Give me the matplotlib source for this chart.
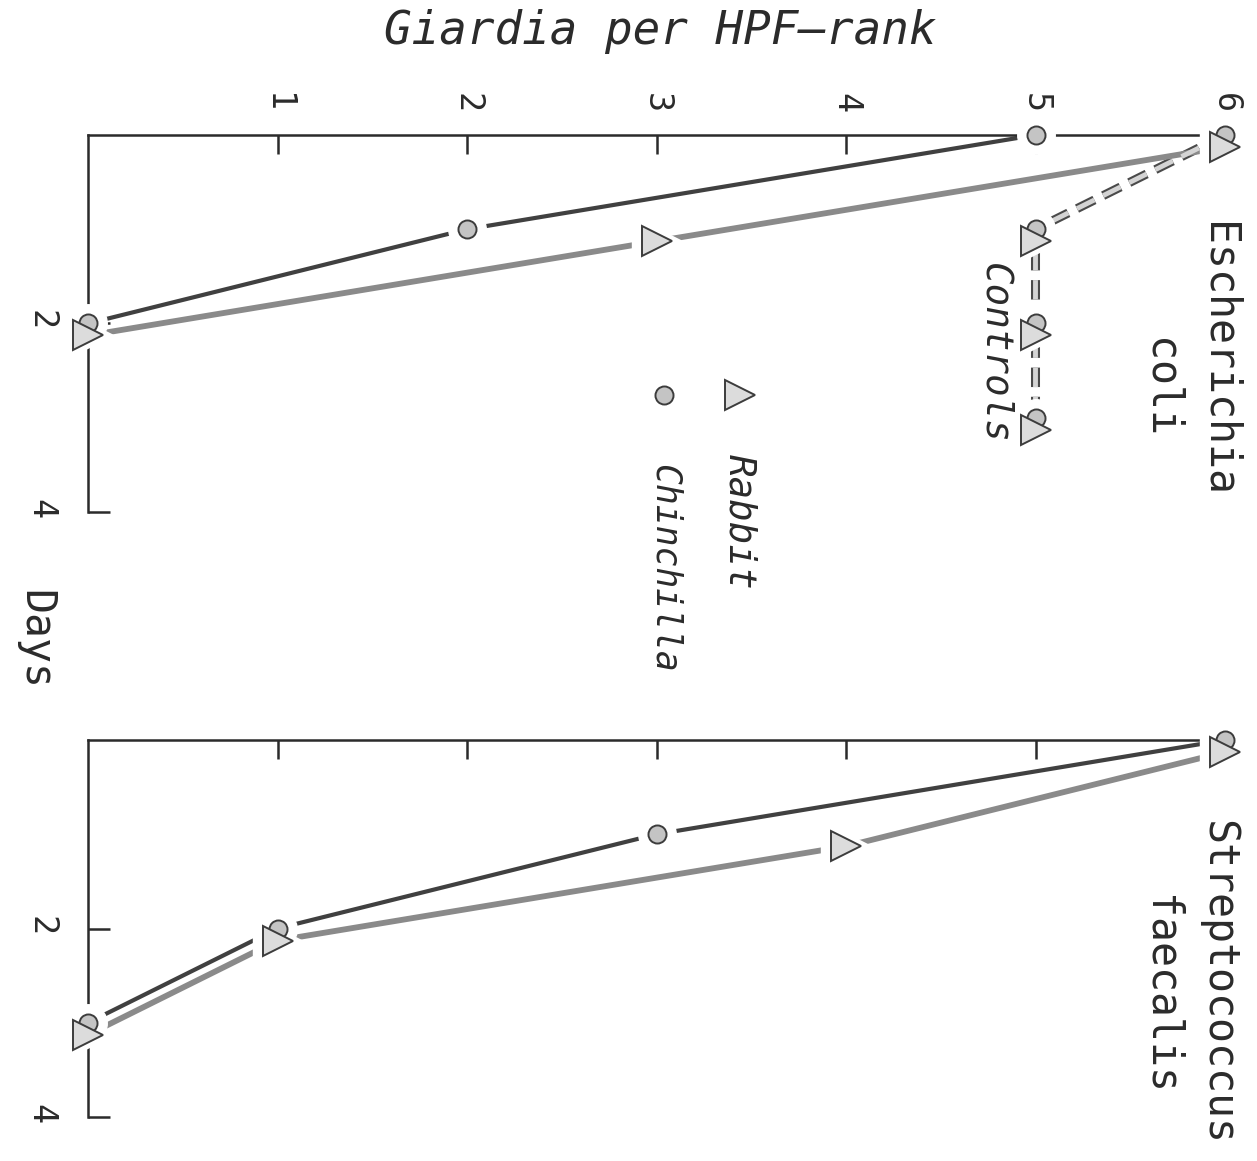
import matplotlib

matplotlib.use("Agg")
import matplotlib.pyplot as plt
import matplotlib.transforms as mtransforms

# Giardia per HPF rank over days after challenge (figure is drawn turned 90 deg clockwise)
RANK_TICKS = [1, 2, 3, 4, 5, 6]
DAY_TICKS = [2, 4]

ECOLI_DAYS = [0, 1, 2]
ECOLI_CHINCHILLA = [5, 2, 0]
ECOLI_RABBIT = [6, 3, 0]

CONTROL_DAYS = [0, 1, 2, 3]
CONTROL_RANK = [6, 5, 5, 5]

STREP_DAYS = [0, 1, 2, 3]
STREP_CHINCHILLA = [6, 3, 1, 0]
STREP_RABBIT = [6, 4, 1, 0]

W, H = 1257, 1161
INK = "#2b2b2b"
MONO = "DejaVu Sans Mono"

plt.rcParams["lines.scale_dashes"] = False


def px(x0, y0, x1, y1):
    # pixel box (top-left origin) -> figure fractions
    return [x0 / W, 1 - y1 / H, (x1 - x0) / W, (y1 - y0) / H]


def setup_axis(ax, show_rank_labels):
    ax.set_xlim(0, 6)
    ax.set_ylim(4, 0)
    ax.patch.set_alpha(0)
    for side in ("right", "bottom"):
        ax.spines[side].set_visible(False)
    for side in ("left", "top"):
        ax.spines[side].set_color(INK)
        ax.spines[side].set_linewidth(1.8)
    ax.xaxis.tick_top()
    ax.set_xticks(RANK_TICKS)
    ax.set_xticklabels([str(r) for r in RANK_TICKS], rotation=-90, family=MONO, fontsize=24, color=INK)
    ax.tick_params(axis="x", direction="in", length=14, width=1.8, color=INK, pad=16,
                   labeltop=show_rank_labels, labelbottom=False, bottom=False)
    ax.set_yticks(DAY_TICKS)
    ax.set_yticklabels([str(d) for d in DAY_TICKS], rotation=-90, family=MONO, fontsize=24, color=INK)
    ax.tick_params(axis="y", direction="in", length=16, width=1.8, color=INK, pad=22, right=False)


def draw_series(ax, days, ranks, marker, size, line_color, lw, fill, shift_px=0.0, dashed=False, line=True):
    fig = ax.figure
    tr = ax.transData + mtransforms.ScaledTranslation(0, -shift_px / 100, fig.dpi_scale_trans)
    if line:
        if dashed:
            ax.plot(ranks, days, color="#4a4a4a", lw=6.5, dashes=(14, 7), transform=tr, zorder=2, clip_on=False,
                    dash_capstyle="butt")
            ax.plot(ranks, days, color="#d4d4d4", lw=3.5, dashes=(14, 7), transform=tr, zorder=2.1, clip_on=False,
                    dash_capstyle="butt")
        else:
            ax.plot(ranks, days, color=line_color, lw=lw, transform=tr, zorder=2, clip_on=False,
                    solid_capstyle="round")
    # white halo gives the little gaps round each symbol, as in the drawing
    ax.plot(ranks, days, ls="none", marker=marker, ms=size + 14, mfc="white", mec="white",
            transform=tr, zorder=3, clip_on=False)
    ax.plot(ranks, days, ls="none", marker=marker, ms=size, mfc=fill, mec="#3c3c3c", mew=1.4,
            transform=tr, zorder=4, clip_on=False)


def main():
    fig = plt.figure(figsize=(W / 100, H / 100), dpi=100)
    ax_top = fig.add_axes(px(88, 135, 1225, 512))
    ax_bot = fig.add_axes(px(88, 740, 1225, 1117))
    setup_axis(ax_top, True)
    setup_axis(ax_bot, False)

    chin_style = dict(marker="o", size=13, line_color="#404040", lw=3.0, fill="#c4c4c4")
    rab_style = dict(marker=">", size=22, line_color="#8a8a8a", lw=4.2, fill="#dcdcdc", shift_px=12)

    # Escherichia coli
    draw_series(ax_top, CONTROL_DAYS, CONTROL_RANK, "o", 13, None, 0, "#c4c4c4", dashed=True)
    draw_series(ax_top, CONTROL_DAYS[1:], CONTROL_RANK[1:], ">", 22, None, 0, "#dcdcdc", shift_px=12, line=False)
    draw_series(ax_top, ECOLI_DAYS, ECOLI_CHINCHILLA, **chin_style)
    draw_series(ax_top, ECOLI_DAYS, ECOLI_RABBIT, **rab_style)

    # Streptococcus faecalis
    draw_series(ax_bot, STREP_DAYS, STREP_CHINCHILLA, **chin_style)
    draw_series(ax_bot, STREP_DAYS, STREP_RABBIT, **rab_style)

    # legend keys, placed in axes fractions
    ax_top.plot([0.573], [0.31], transform=ax_top.transAxes, marker=">", ms=22, mfc="#dcdcdc",
                mec="#3c3c3c", mew=1.4, ls="none", clip_on=False)
    ax_top.plot([0.507], [0.31], transform=ax_top.transAxes, marker="o", ms=13, mfc="#c4c4c4",
                mec="#3c3c3c", mew=1.4, ls="none", clip_on=False)
    ax_top.text(0.573, -0.026, "Rabbit", transform=ax_top.transAxes, rotation=-90, ha="center", va="center",
                family=MONO, style="italic", fontsize=27, color=INK)
    ax_top.text(0.507, -0.149, "Chinchilla", transform=ax_top.transAxes, rotation=-90, ha="center",
                va="center", family=MONO, style="italic", fontsize=25, color=INK)
    ax_top.text(0.797, 0.42, "Controls", transform=ax_top.transAxes, rotation=-90, ha="center", va="center",
                family=MONO, style="italic", fontsize=27, color=INK)

    text_kw = dict(rotation=-90, ha="center", va="center", family=MONO, fontsize=30, color=INK)
    fig.text(1218 / W, 1 - 360 / H, "Escherichia", **text_kw)
    fig.text(1160 / W, 1 - 388 / H, "coli", **text_kw)
    fig.text(1218 / W, 1 - 982 / H, "Streptococcus", **text_kw)
    fig.text(1160 / W, 1 - 995 / H, "faecalis", **text_kw)
    fig.text(35 / W, 1 - 640 / H, "Days", **text_kw)
    fig.text(660 / W, 1 - 32 / H, "Giardia per HPF\u2013rank", ha="center", va="center", family=MONO,
             style="italic", fontsize=33, color=INK)

    fig.savefig("out.png", dpi=100)
    plt.close(fig)


if __name__ == "__main__":
    main()
